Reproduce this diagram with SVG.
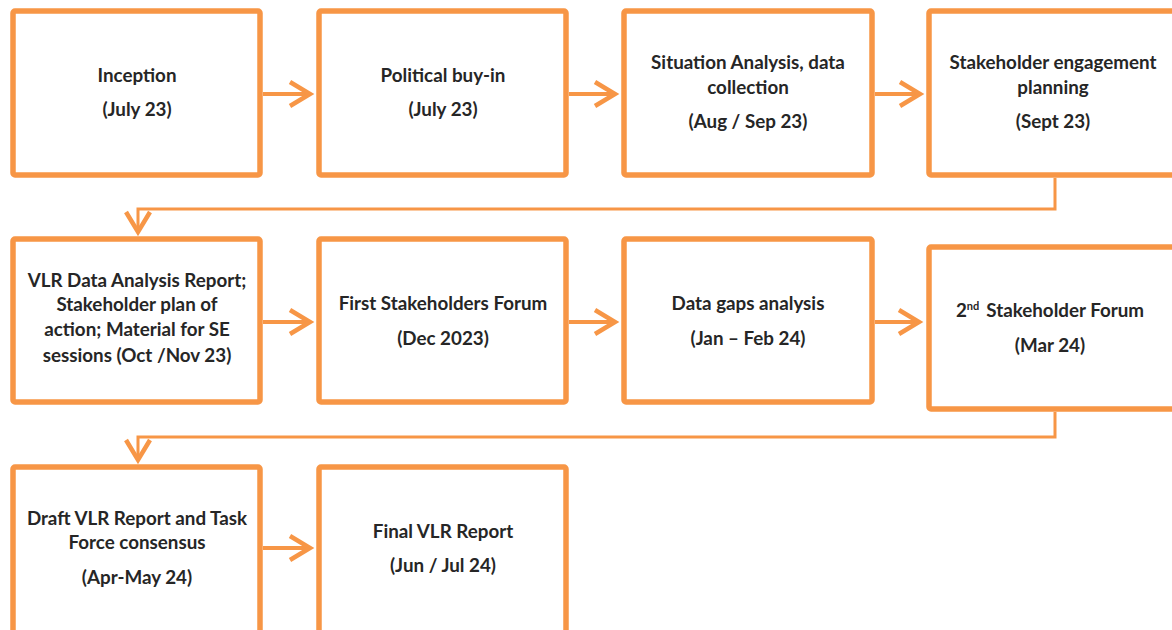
<svg xmlns="http://www.w3.org/2000/svg" width="1172" height="630" viewBox="0 0 1172 630">
<style>
.box{fill:#ffffff;stroke:#F79646;stroke-width:5.5}
.t{font-family:Lato,"Liberation Sans",sans-serif;font-weight:bold;font-size:18.8px;fill:#262626;text-anchor:middle}
.c{fill:none;stroke:#F79646;stroke-width:4}
.e{fill:none;stroke:#F79646;stroke-width:3}
</style>
<defs>
<marker id="ah" markerUnits="userSpaceOnUse" markerWidth="30" markerHeight="30" viewBox="0 0 30 30" refX="24" refY="15" orient="auto">
<path d="M4,3 L24,15 L4,27" fill="none" stroke="#F79646" stroke-width="4.5"/>
</marker>
</defs>
<rect width="1172" height="630" fill="#ffffff"/>
<g id="connectors">
<line class="c" x1="263" y1="94" x2="310" y2="94" marker-end="url(#ah)"/>
<line class="c" x1="569" y1="94" x2="615" y2="94" marker-end="url(#ah)"/>
<line class="c" x1="875" y1="94" x2="920" y2="94" marker-end="url(#ah)"/>
<path class="e" d="M1055,178 V209 H138 V232" marker-end="url(#ah)"/>
<line class="c" x1="263" y1="322" x2="310" y2="322" marker-end="url(#ah)"/>
<line class="c" x1="569" y1="322" x2="615" y2="322" marker-end="url(#ah)"/>
<line class="c" x1="875" y1="322" x2="919" y2="322" marker-end="url(#ah)"/>
<path class="e" d="M1055,412 V437 H138 V460" marker-end="url(#ah)"/>
<line class="c" x1="263" y1="548" x2="310" y2="548" marker-end="url(#ah)"/>
</g>
<g id="n1"><rect class="box" x="13" y="11" width="247" height="164" rx="2"/>
<text class="t" x="137" y="82">Inception</text><text class="t" x="137" y="116">(July 23)</text></g>
<g id="n2"><rect class="box" x="319" y="11" width="247" height="164" rx="2"/>
<text class="t" x="443" y="82">Political  buy-in</text><text class="t" x="443" y="116">(July 23)</text></g>
<g id="n3"><rect class="box" x="624" y="11" width="248" height="164" rx="2"/>
<text class="t" x="748" y="69">Situation Analysis, data</text><text class="t" x="748" y="94">collection</text><text class="t" x="748" y="128">(Aug / Sep 23)</text></g>
<g id="n4"><rect class="box" x="929" y="11" width="250" height="164" rx="2"/>
<text class="t" x="1053" y="69">Stakeholder engagement</text><text class="t" x="1053" y="94">planning</text><text class="t" x="1053" y="128">(Sept 23)</text></g>
<g id="n5"><rect class="box" x="13" y="239" width="247" height="163" rx="2"/>
<text class="t" x="137" y="287">VLR Data Analysis Report;</text><text class="t" x="137" y="311">Stakeholder plan of</text><text class="t" x="137" y="336">action; Material for SE</text><text class="t" x="137" y="362">sessions (Oct /Nov 23)</text></g>
<g id="n6"><rect class="box" x="319" y="239" width="247" height="163" rx="2"/>
<text class="t" x="443" y="310">First Stakeholders Forum</text><text class="t" x="443" y="345">(Dec 2023)</text></g>
<g id="n7"><rect class="box" x="624" y="239" width="248" height="163" rx="2"/>
<text class="t" x="748" y="310">Data gaps analysis</text><text class="t" x="748" y="345">(Jan – Feb 24)</text></g>
<g id="n8"><rect class="box" x="929" y="247" width="250" height="162" rx="2"/>
<text class="t" x="1050" y="317">2<tspan font-size="11" dy="-7">nd</tspan><tspan dy="7" dx="7">Stakeholder Forum</tspan></text><text class="t" x="1050" y="352">(Mar 24)</text></g>
<g id="n9"><rect class="box" x="13" y="467" width="247" height="175" rx="2"/>
<text class="t" x="137" y="525">Draft VLR Report and Task</text><text class="t" x="137" y="549">Force consensus</text><text class="t" x="137" y="584">(Apr-May 24)</text></g>
<g id="n10"><rect class="box" x="319" y="467" width="247" height="175" rx="2"/>
<text class="t" x="443" y="538">Final VLR Report</text><text class="t" x="443" y="572">(Jun / Jul 24)</text></g>
</svg>
